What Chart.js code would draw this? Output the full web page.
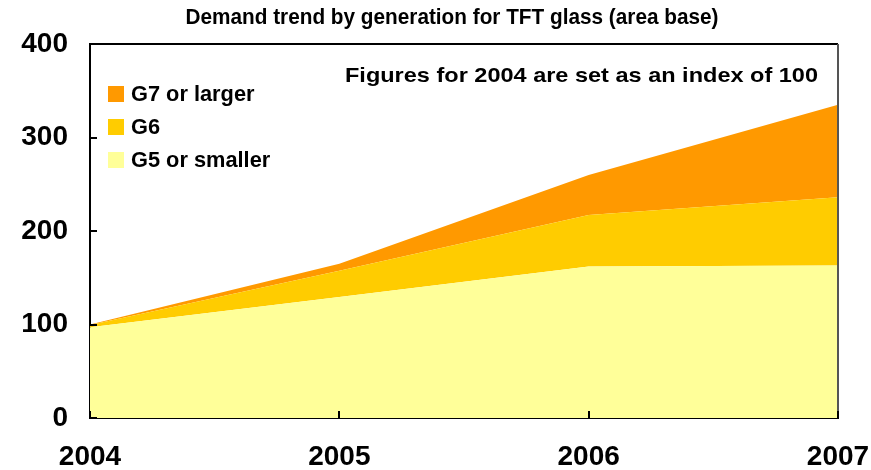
<!DOCTYPE html>
<html>
<head>
<meta charset="utf-8">
<script src="https://cdn.jsdelivr.net/npm/chart.js@4.4.1/dist/chart.umd.min.js"></script>
<style>
  html, body { margin: 0; padding: 0; background: #ffffff; }
  #wrap { width: 871px; height: 470px; position: relative; }
</style>
</head>
<body>
<div id="wrap"><canvas id="c" width="871" height="470"></canvas></div>
<script>
const years = ['2004', '2005', '2006', '2007'];
const g5Values = [97, 129.5, 162, 163];
const g6Values = [2.5, 28, 55, 73];
const g7Values = [0.5, 7.5, 43, 99];
const yTicks = [0, 100, 200, 300, 400];
const seriesNames = ['G5 or smaller', 'G6', 'G7 or larger'];
const seriesColors = ['#FFFF99', '#FFCC00', '#FF9900'];
const titleText = 'Demand trend by generation for TFT glass (area base)';
const noteText = 'Figures for 2004 are set as an index of 100';

const FONT = '"Liberation Sans", Arial, sans-serif';

function fitText(ctx, text, x, y, size, targetW, align) {
  ctx.font = 'bold ' + size + 'px ' + FONT;
  const w = ctx.measureText(text).width;
  const s = targetW / w;
  ctx.save();
  ctx.textBaseline = 'middle';
  ctx.textAlign = 'left';
  let x0 = x;
  if (align === 'center') x0 = x - targetW / 2;
  ctx.translate(x0, y);
  ctx.scale(s, 1);
  ctx.fillText(text, 0, 0);
  ctx.restore();
}

const decorPlugin = {
  id: 'decor',
  afterDraw(chart) {
    const ctx = chart.ctx;
    const a = chart.chartArea;
    const xs = chart.scales.x, ys = chart.scales.y;
    ctx.save();
    ctx.strokeStyle = '#000';
    ctx.lineWidth = 2;
    ctx.beginPath();
    ctx.moveTo(a.left - 1, a.top); ctx.lineTo(a.right, a.top);
    ctx.stroke();
    ctx.strokeStyle = '#555';
    ctx.beginPath();
    ctx.moveTo(a.right, a.top); ctx.lineTo(a.right, a.bottom);
    ctx.stroke();
    ctx.strokeStyle = '#000';
    ctx.lineWidth = 2;
    yTicks.forEach(v => {
      const y = Math.round(ys.getPixelForValue(v));
      ctx.beginPath(); ctx.moveTo(a.left, y); ctx.lineTo(a.left + 7, y); ctx.stroke();
    });
    years.forEach((yr, i) => {
      const x = Math.round(xs.getPixelForValue(i));
      ctx.beginPath(); ctx.moveTo(x, a.bottom); ctx.lineTo(x, a.bottom - 7); ctx.stroke();
    });
    ctx.fillStyle = '#000';
    fitText(ctx, titleText, 452, 18, 22, 533, 'center');
    fitText(ctx, noteText, 345, 76, 21, 473, 'left');
    const order = [2, 1, 0];
    order.forEach((di, k) => {
      const y0 = 86 + k * 33;
      ctx.fillStyle = seriesColors[di];
      ctx.fillRect(108, y0, 16, 16);
      ctx.fillStyle = '#000';
      ctx.font = 'bold 22px ' + FONT;
      const w = ctx.measureText(seriesNames[di]).width;
      fitText(ctx, seriesNames[di], 131, y0 + 8.5, 22, w * 0.99, 'left');
    });
    ctx.restore();
  }
};

const valueSets = [g5Values, g6Values, g7Values];
new Chart(document.getElementById('c'), {
  type: 'line',
  data: {
    labels: years,
    datasets: valueSets.map((vals, i) => ({
      label: seriesNames[i],
      data: vals,
      backgroundColor: seriesColors[i],
      borderColor: seriesColors[i],
      borderWidth: 0,
      pointRadius: 0,
      tension: 0,
      fill: i === 0 ? 'origin' : '-1'
    }))
  },
  options: {
    responsive: false,
    animation: false,
    layout: { padding: { top: 44, right: 33, left: 0, bottom: 0 } },
    plugins: { legend: { display: false }, title: { display: false }, tooltip: { enabled: false } },
    scales: {
      x: {
        offset: false,
        grid: { display: false, drawTicks: false },
        border: { display: true, color: '#000', width: 2 },
        ticks: { color: '#000', font: { family: FONT, size: 28, weight: 'bold' }, padding: 22, maxRotation: 0, autoSkip: false },
        afterFit(s) { s.height = 52; s.paddingLeft = 0; s.paddingRight = 0; }
      },
      y: {
        stacked: true,
        min: 0, max: 400,
        afterBuildTicks(s) { s.ticks = yTicks.map(v => ({ value: v })); },
        grid: { display: false, drawTicks: false },
        border: { display: true, color: '#000', width: 2 },
        ticks: { color: '#000', font: { family: FONT, size: 28, weight: 'bold' }, padding: 22 },
        afterFit(s) { s.width = 90; s.paddingTop = 0; s.paddingBottom = 0; }
      }
    }
  },
  plugins: [decorPlugin]
});
</script>
</body>
</html>
